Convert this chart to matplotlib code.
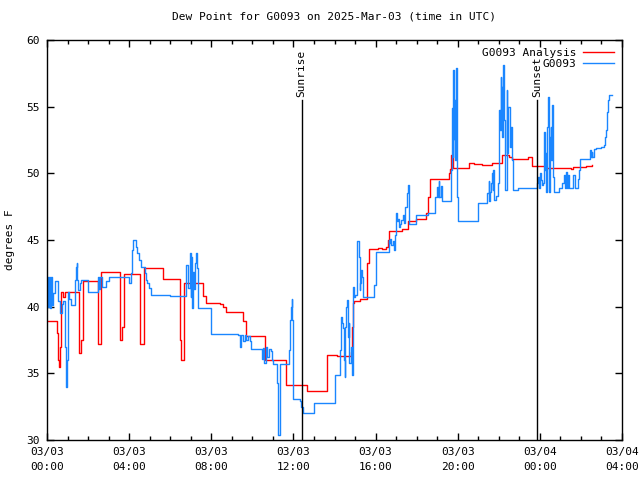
import numpy as np
import matplotlib
matplotlib.use("Agg")
import matplotlib.pyplot as plt
from matplotlib.ticker import MultipleLocator, FixedLocator

# hours since 2025-03-03 00:00 UTC
analysis_hours = [0.00, 0.47, 0.50, 0.55, 0.60, 0.65, 0.68, 0.80, 0.90, 1.52, 1.56, 1.65, 1.75,
                  2.46, 2.50, 2.60, 2.62, 3.50, 3.55, 3.65, 3.76, 4.49, 4.52, 4.67, 4.72,
                  5.62, 5.66, 6.47, 6.49, 6.54, 6.61, 6.67, 7.52, 7.58, 7.73, 8.41, 8.56, 8.70,
                  9.51, 9.55, 9.67, 9.70, 10.51, 10.60, 11.62, 11.65, 12.59, 12.66, 13.60, 13.63,
                  14.08, 14.10, 14.53, 14.81, 14.83, 14.88, 14.94, 15.25, 15.26, 15.57, 15.60, 15.67,
                  16.06, 16.12, 16.33, 16.51, 16.59, 16.67, 17.21, 17.28, 17.51, 17.60, 17.97, 18.13,
                  18.46, 18.54, 18.57, 18.65, 19.46, 19.59, 19.64, 19.67, 19.74, 19.78, 20.21, 20.32,
                  20.56, 20.81, 21.13, 21.17, 21.62, 21.66, 22.10, 22.17, 22.51, 22.66, 23.40, 23.51,
                  23.61, 24.21, 24.29, 25.26, 25.50, 25.62, 26.26, 26.56]
analysis_dewpt = [38.95, 38.95, 38.0, 36.0, 35.5, 37.0, 41.1, 40.75, 41.1, 41.1, 36.5, 37.5, 41.9,
                  41.9, 37.2, 37.2, 42.6, 42.6, 37.5, 38.5, 42.45, 42.45, 37.2, 37.2, 42.9,
                  42.9, 42.05, 42.05, 37.5, 36.0, 36.0, 41.8, 41.8, 40.8, 40.3, 40.2, 40.0, 39.6,
                  39.6, 38.9, 38.9, 37.8, 37.8, 36.0, 36.0, 34.1, 34.1, 33.7, 33.7, 36.4,
                  36.4, 36.3, 36.3, 36.6, 38.5, 40.25, 40.45, 40.45, 40.55, 40.55, 43.25, 44.3,
                  44.3, 44.4, 44.3, 44.5, 45.0, 45.7, 45.7, 45.8, 45.8, 46.4, 46.6, 46.6,
                  47.0, 47.0, 48.25, 49.6, 49.6, 50.0, 50.3, 51.4, 51.2, 50.4, 50.4, 50.4,
                  50.8, 50.7, 50.7, 50.6, 50.6, 50.8, 50.8, 51.4, 51.25, 51.1, 51.2, 51.2,
                  50.55, 50.55, 50.4, 50.4, 50.3, 50.45, 50.55, 50.6]

obs_hours = [0.00, 0.03, 0.08, 0.13, 0.18, 0.23, 0.29, 0.39, 0.55, 0.63, 0.73, 0.78, 0.88, 0.92,
             0.96, 1.01, 1.04, 1.09, 1.17, 1.31, 1.36, 1.41, 1.44, 1.48, 1.52, 1.60, 1.65, 1.85,
             2.01, 2.38, 2.46, 2.53, 2.60, 2.66, 2.74, 2.87, 3.01, 3.92, 3.99, 4.08, 4.15, 4.20,
             4.31, 4.38, 4.47, 4.60, 4.76, 4.81, 4.88, 4.97, 5.04, 5.95, 5.98, 6.71, 6.76, 6.79,
             6.87, 6.95, 7.00, 7.03, 7.06, 7.11, 7.15, 7.19, 7.24, 7.28, 7.33, 7.36, 7.92, 7.97,
             9.30, 9.38, 9.42, 9.46, 9.54, 9.63, 9.71, 9.79, 9.87, 9.95, 10.44, 10.49, 10.52,
             10.58, 10.65, 10.71, 10.81, 10.90, 10.94, 11.00, 11.17, 11.20, 11.24, 11.26, 11.33,
             11.36, 11.73, 11.78, 11.81, 11.85, 11.88, 11.91, 11.94, 11.97, 12.22, 12.30, 12.38,
             12.49, 12.92, 12.98, 13.92, 14.00, 14.24, 14.28, 14.33, 14.37, 14.40, 14.44, 14.49,
             14.53, 14.57, 14.60, 14.65, 14.70, 14.73, 14.79, 14.84, 14.89, 14.94, 14.97, 15.02,
             15.09, 15.12, 15.17, 15.22, 15.26, 15.31, 15.35, 15.38, 15.41, 15.91, 15.94, 16.03,
             16.59, 16.63, 16.67, 16.72, 16.77, 16.84, 16.90, 16.93, 17.00, 17.03, 17.08, 17.13,
             17.19, 17.26, 17.32, 17.40, 17.45, 17.51, 17.56, 17.61, 17.65, 17.97, 18.54, 18.91,
             18.97, 19.02, 19.07, 19.10, 19.17, 19.22, 19.67, 19.70, 19.75, 19.78, 19.82, 19.85,
             19.88, 19.92, 19.95, 19.99, 21.00, 21.45, 21.50, 21.54, 21.59, 21.63, 21.67, 21.70,
             21.74, 21.79, 21.86, 21.94, 21.99, 22.02, 22.06, 22.09, 22.12, 22.15, 22.18, 22.22,
             22.26, 22.31, 22.38, 22.42, 22.47, 22.54, 22.59, 22.64, 22.67, 22.70, 22.94, 23.88,
             23.93, 23.97, 24.00, 24.05, 24.10, 24.13, 24.18, 24.21, 24.26, 24.29, 24.32, 24.37,
             24.40, 24.45, 24.50, 24.53, 24.56, 24.61, 24.65, 24.70, 24.94, 25.10, 25.18, 25.23,
             25.26, 25.31, 25.39, 25.44, 25.62, 25.72, 25.88, 25.91, 25.94, 26.43, 26.48, 26.53,
             26.56, 26.64, 26.75, 26.96, 27.13, 27.18, 27.21, 27.26, 27.29, 27.34, 27.37, 27.53]
obs_dewpt = [42.2, 40.0, 42.2, 39.9, 42.2, 40.1, 41.0, 41.9, 40.4, 39.5, 40.2, 40.4, 37.0, 34.0,
             36.0, 39.8, 41.1, 40.6, 40.1, 40.1, 42.0, 43.0, 43.25, 42.0, 41.25, 41.8, 42.0, 42.0,
             41.1, 41.1, 42.25, 41.3, 42.2, 41.5, 41.5, 41.9, 42.2, 42.2, 41.8, 42.5, 44.25, 45.0,
             44.5, 44.0, 43.5, 43.0, 42.5, 42.0, 41.8, 41.4, 40.9, 40.9, 40.8, 40.8, 42.25, 43.1,
             41.4, 44.0, 40.75, 43.7, 39.9, 42.6, 41.3, 43.3, 44.0, 42.9, 40.75, 39.9, 39.9, 37.95,
             37.9, 37.5, 36.95, 37.9, 37.4, 37.9, 37.5, 37.8, 37.4, 36.8, 36.8, 36.1, 36.9,
             35.8, 37.0, 36.2, 36.8, 36.7, 36.0, 35.7, 35.7, 34.3, 31.75, 30.4, 34.3,
             35.7, 35.7, 36.75, 37.5, 39.0, 40.0, 40.55, 39.0, 33.05, 33.05, 32.9, 32.5,
             32.0, 32.0, 32.8, 32.8, 34.9, 34.9, 36.75, 39.25, 38.75, 38.4, 36.0, 34.75,
             38.5, 40.0, 40.5, 37.75, 38.75, 35.75, 37.0, 34.9, 41.5, 41.25, 40.75, 40.9,
             42.9, 44.9, 43.75, 41.25, 41.75, 42.75, 42.25, 41.5, 40.75, 40.75, 41.6, 44.1,
             44.1, 45.0, 44.8, 45.05, 44.6, 44.9, 44.25, 45.4, 47.0, 46.4, 46.6, 46.0,
             46.2, 46.5, 46.9, 46.25, 47.5, 48.5, 49.1, 48.25, 46.2, 46.9, 47.05, 48.25,
             49.0, 48.25, 49.4, 48.25, 49.05, 47.9, 50.25, 54.9, 51.25, 57.75, 52.6, 55.5,
             51.0, 57.9, 48.25, 46.4, 47.8, 48.5, 49.4, 47.9, 48.6, 49.25, 50.0, 48.75,
             50.25, 48.0, 48.3, 49.25, 50.75, 54.75, 53.25, 57.25, 54.75, 56.5, 52.75, 58.1,
             54.0, 48.75, 56.25, 51.5, 55.0, 52.0, 53.5, 51.0, 49.75, 48.75, 48.9, 49.25,
             49.75, 48.9, 50.0, 49.5, 49.1, 49.25, 51.5, 53.1, 50.25, 51.5, 48.6, 53.5,
             55.75, 48.6, 52.75, 53.5, 51.0, 55.1, 49.75, 48.6, 48.9, 49.25, 49.9, 48.9,
             50.1, 48.9, 49.9, 48.9, 49.9, 48.9, 49.6, 50.25, 51.1, 51.75, 51.25, 51.6,
             51.25, 51.8, 51.9, 51.95, 52.1, 52.75, 53.25, 53.9, 54.6, 55.5, 55.9, 55.9]

sunrise_hour = 12.40
sunset_hour = 23.87
tick_hours = [0, 4, 8, 12, 16, 20, 24, 28]
tick_labels = ["03/03\n00:00", "03/03\n04:00", "03/03\n08:00", "03/03\n12:00",
               "03/03\n16:00", "03/03\n20:00", "03/04\n00:00", "03/04\n04:00"]

plt.rcParams['font.family'] = 'DejaVu Sans Mono'
plt.rcParams['font.size'] = 8

fig = plt.figure(figsize=(6.4, 4.8), dpi=100)
ax = fig.add_axes([47 / 640, 40 / 480, 575 / 640, 400 / 480])

ax.plot(analysis_hours, analysis_dewpt, color='#ff0000', lw=1, drawstyle='steps-post',
        label='G0093 Analysis')
ax.plot(obs_hours, obs_dewpt, color='#1a86ff', lw=1, drawstyle='steps-post', label='G0093')

for h, name in [(sunrise_hour, 'Sunrise'), (sunset_hour, 'Sunset')]:
    ax.plot([h, h], [30, 55.5], color='black', lw=1)
    ax.text(h, 55.7, name, rotation=90, ha='center', va='bottom', fontsize=8)

ax.set_xlim(0, 28)
ax.set_ylim(30, 60)
ax.xaxis.set_major_locator(FixedLocator(tick_hours))
ax.set_xticklabels(tick_labels, linespacing=1.6)
ax.xaxis.set_minor_locator(MultipleLocator(1))
ax.yaxis.set_major_locator(MultipleLocator(5))
ax.tick_params(which='both', direction='in', top=True, right=True, width=1)
ax.tick_params(which='major', length=5, pad=5)
ax.tick_params(which='minor', length=3)
for s in ax.spines.values():
    s.set_linewidth(1)

ax.set_title('Dew Point for G0093 on 2025-Mar-03 (time in UTC)', fontsize=8, pad=15)
ax.set_ylabel('degrees F', fontsize=8, labelpad=8)

leg = ax.legend(loc='upper right', frameon=False, markerfirst=False, handlelength=2.8,
                borderaxespad=0.3, labelspacing=0.1, handletextpad=0.6, fontsize=8)
for t in leg.get_texts():
    t.set_ha('right')

fig.savefig('out.png', dpi=100)
